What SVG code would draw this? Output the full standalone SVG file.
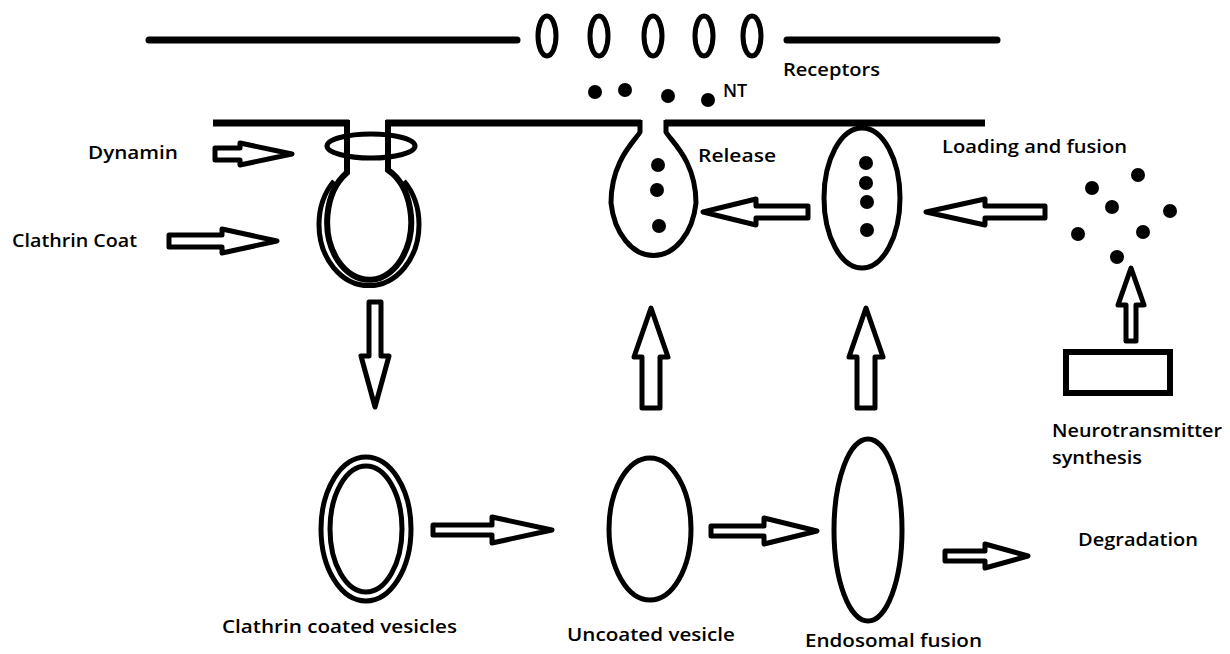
<svg xmlns="http://www.w3.org/2000/svg" width="1230" height="654" viewBox="0 0 1230 654">
  <style>
    .line { stroke: #000; stroke-width: 7; fill: none; }
    .cap { stroke-linecap: round; }
    .ves { stroke: #000; stroke-width: 5; fill: none; }
    .arrow { fill: #fff; stroke: #000; stroke-width: 5; stroke-linejoin: round; }
    .dot { fill: #000; }
    .lbl { font-family: "Open Sans", "Noto Sans", sans-serif; font-weight: 600; font-size: 18px; fill: #000; }
  </style>
  <rect width="1230" height="654" fill="#fff"/>

  <!-- postsynaptic membrane with receptors -->
  <g id="postsynaptic">
    <line class="line cap" x1="149" y1="40" x2="517" y2="40"/>
    <line class="line cap" x1="787" y1="40" x2="997" y2="40"/>
    <ellipse class="ves" cx="547" cy="36" rx="9" ry="20"/>
    <ellipse class="ves" cx="599" cy="36" rx="9" ry="20"/>
    <ellipse class="ves" cx="653" cy="36" rx="9" ry="20"/>
    <ellipse class="ves" cx="704" cy="36" rx="9" ry="20"/>
    <ellipse class="ves" cx="752" cy="36" rx="9" ry="20"/>
    <text class="lbl" x="783" y="76" textLength="97" lengthAdjust="spacingAndGlyphs">Receptors</text>
  </g>

  <!-- neurotransmitter in the cleft -->
  <g id="cleft-nt">
    <circle class="dot" cx="595" cy="92" r="7"/>
    <circle class="dot" cx="625" cy="90" r="7"/>
    <circle class="dot" cx="668" cy="96" r="7"/>
    <circle class="dot" cx="708" cy="100" r="7"/>
    <text class="lbl" x="723" y="97">NT</text>
  </g>

  <!-- presynaptic membrane -->
  <g id="presynaptic">
    <line class="line" x1="213" y1="123" x2="349" y2="123"/>
    <line class="line" x1="386" y1="123" x2="641" y2="123"/>
    <line class="line" x1="665" y1="123" x2="985" y2="123"/>
  </g>

  <!-- budding vesicle with dynamin ring and clathrin coat -->
  <g id="budding-vesicle">
    <path class="ves" style="stroke-width:6" d="M347,120 V172.6 A42,58 0 1 0 388,170 V120"/>
    <path class="ves" d="M334,181 A50,61 0 1 0 404,181"/>
    <ellipse class="ves" cx="371" cy="146" rx="44" ry="12"/>
  </g>

  <g id="dynamin">
    <text class="lbl" x="88" y="159" textLength="90" lengthAdjust="spacingAndGlyphs">Dynamin</text>
  </g>
  <g id="clathrin-coat">
    <text class="lbl" x="12" y="247" textLength="125" lengthAdjust="spacingAndGlyphs">Clathrin Coat</text>
  </g>

  <!-- vesicle releasing its content -->
  <g id="release-vesicle">
    <path class="ves" d="M640,120 V132 C636,140 611,160 611,203 A43,62 0 0 0 696,203 C696,160 670,140 666,132 V120"/>
    <circle class="dot" cx="658" cy="165" r="7"/>
    <circle class="dot" cx="657" cy="190" r="7"/>
    <circle class="dot" cx="659" cy="226" r="7"/>
    <text class="lbl" x="698" y="162" textLength="78" lengthAdjust="spacingAndGlyphs">Release</text>
  </g>

  <!-- docked, loaded vesicle -->
  <g id="loaded-vesicle">
    <ellipse class="ves" cx="862" cy="198" rx="38" ry="70"/>
    <circle class="dot" cx="866" cy="163" r="7"/>
    <circle class="dot" cx="866" cy="183" r="7"/>
    <circle class="dot" cx="867" cy="202" r="7"/>
    <circle class="dot" cx="867" cy="230" r="7"/>
    <text class="lbl" x="942" y="153" textLength="185" lengthAdjust="spacingAndGlyphs">Loading and fusion</text>
  </g>

  <!-- free neurotransmitter molecules -->
  <g id="free-nt">
    <circle class="dot" cx="1092" cy="188" r="7"/>
    <circle class="dot" cx="1138" cy="175" r="7"/>
    <circle class="dot" cx="1112" cy="207" r="7"/>
    <circle class="dot" cx="1170" cy="211" r="7"/>
    <circle class="dot" cx="1078" cy="234" r="7"/>
    <circle class="dot" cx="1143" cy="232" r="7"/>
    <circle class="dot" cx="1117" cy="257" r="7"/>
  </g>

  <!-- synthesis -->
  <g id="synthesis">
    <rect x="1066" y="352" width="104" height="41" fill="none" stroke="#000" stroke-width="6"/>
    <text class="lbl" x="1052" y="437" textLength="170" lengthAdjust="spacingAndGlyphs">Neurotransmitter</text>
    <text class="lbl" x="1052" y="464" textLength="90" lengthAdjust="spacingAndGlyphs">synthesis</text>
  </g>

  <!-- coated vesicle -->
  <g id="coated-vesicle">
    <ellipse class="ves" cx="366" cy="529" rx="45" ry="72"/>
    <ellipse class="ves" cx="366" cy="529" rx="36" ry="63"/>
    <text class="lbl" x="222" y="633" textLength="235" lengthAdjust="spacingAndGlyphs">Clathrin coated vesicles</text>
  </g>

  <!-- uncoated vesicle -->
  <g id="uncoated-vesicle">
    <ellipse class="ves" cx="650" cy="529" rx="41" ry="71"/>
    <text class="lbl" x="567" y="641" textLength="168" lengthAdjust="spacingAndGlyphs">Uncoated vesicle</text>
  </g>

  <!-- endosome -->
  <g id="endosome">
    <ellipse class="ves" cx="868" cy="530" rx="34" ry="91"/>
    <text class="lbl" x="805" y="647" textLength="177" lengthAdjust="spacingAndGlyphs">Endosomal fusion</text>
  </g>

  <g id="degradation">
    <text class="lbl" x="1078" y="546" textLength="120" lengthAdjust="spacingAndGlyphs">Degradation</text>
  </g>

  <!-- block arrows -->
  <g id="connectors">
    <!-- into the budding vesicle -->
    <path class="arrow" d="M215,148 H240 V143 L292,154 L240,165 V160 H215 Z"/>
    <path class="arrow" d="M169,235 H222 V229 L277,241 L222,253 V247 H169 Z"/>
    <!-- fission downwards -->
    <path class="arrow" d="M369,302 H381 V356 H389 L375,407 L361,356 H369 Z"/>
    <!-- along the bottom row -->
    <path class="arrow" d="M433,525 H492 V517 L552,530 L492,543 V535 H433 Z"/>
    <path class="arrow" d="M711,526 H764 V518 L817,531 L764,544 V536 H711 Z"/>
    <path class="arrow" d="M945,551 H985 V544 L1028,556 L985,568 V561 H945 Z"/>
    <!-- back up to the membrane -->
    <path class="arrow" d="M642,408 V357 H634 L651,308 L668,357 H660 V408 Z"/>
    <path class="arrow" d="M857,408 V357 H849 L866,308 L883,357 H875 V408 Z"/>
    <!-- towards release -->
    <path class="arrow" d="M808,206 H756 V199 L703,212 L756,225 V218 H808 Z"/>
    <path class="arrow" d="M1045,206 H985 V199 L926,212 L985,225 V218 H1045 Z"/>
    <!-- from synthesis -->
    <path class="arrow" d="M1126,341 V305 H1118 L1131,268 L1144,305 H1136 V341 Z"/>
  </g>
</svg>
